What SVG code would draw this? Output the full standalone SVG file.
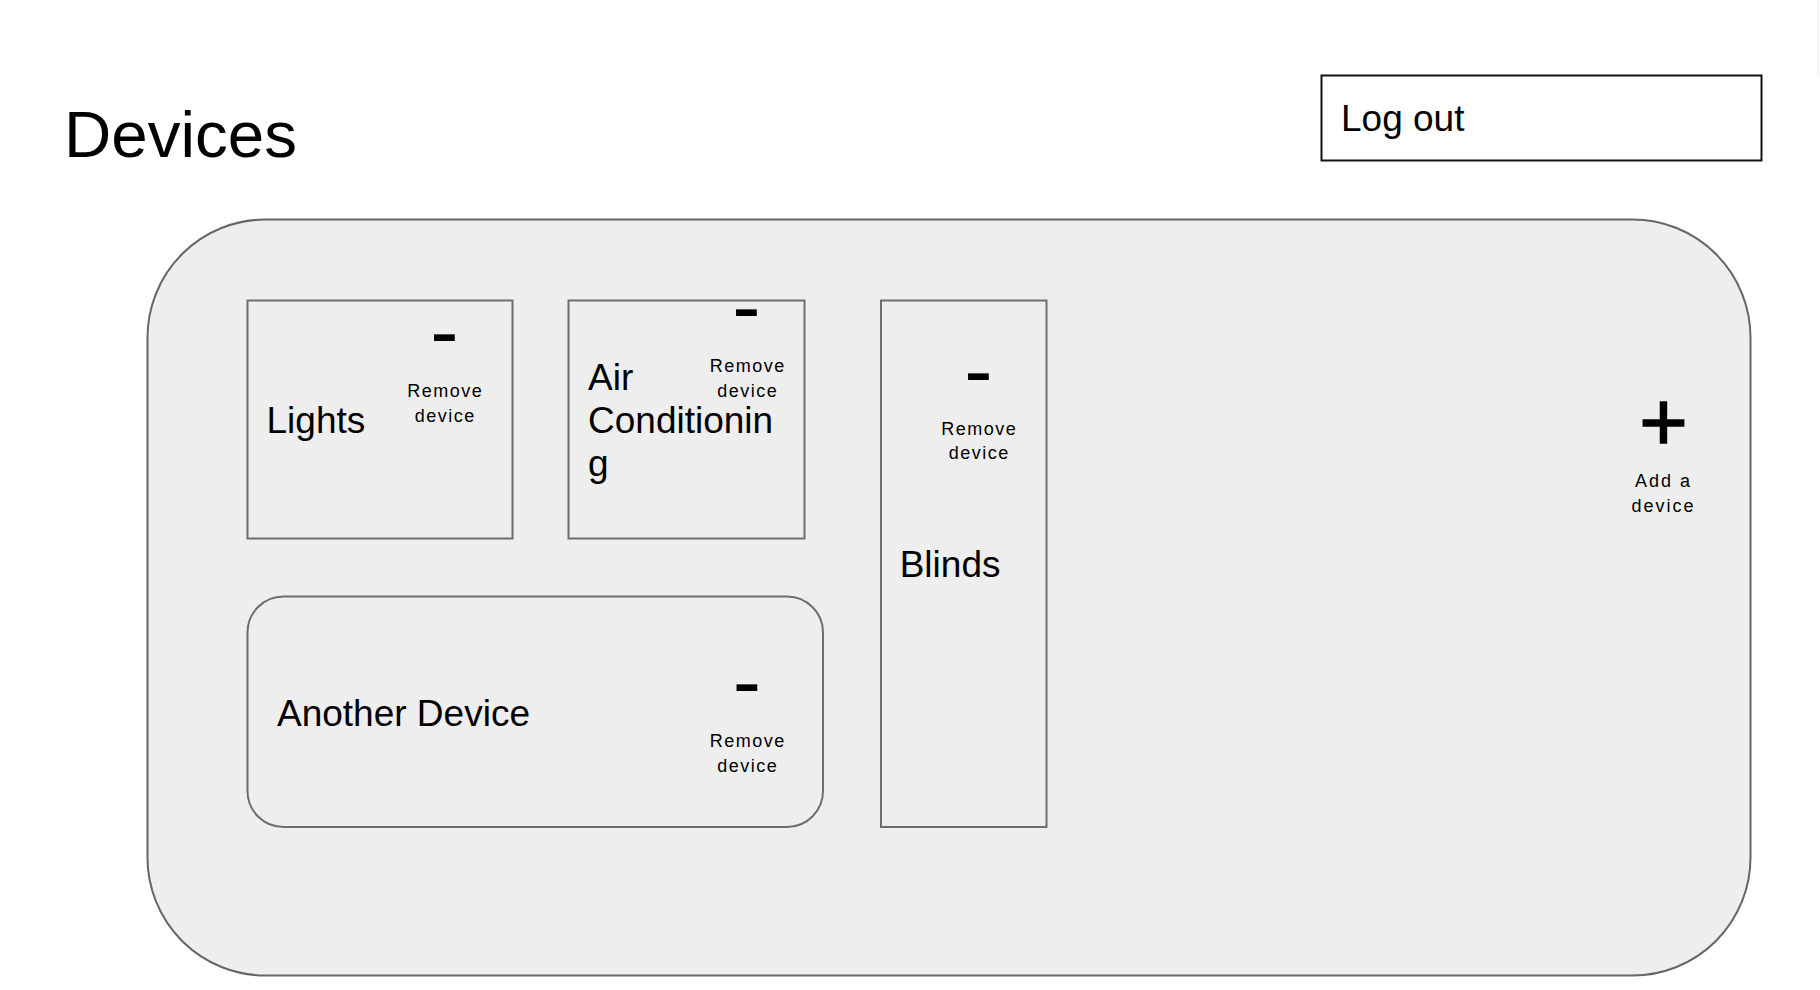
<svg xmlns="http://www.w3.org/2000/svg" width="1820" height="990" viewBox="0 0 1820 990">
  <style>
    .t { font-family: "Liberation Sans", Arial, sans-serif; fill: #000; }
    .big { font-size: 37px; }
    .small { font-size: 18px; letter-spacing: 1.5px; text-anchor: middle; }
    .dash { font-size: 85px; text-anchor: middle; }
    .card { fill: #eeeeee; stroke: #6e6e6e; stroke-width: 2; }
  </style>
  <rect x="0" y="0" width="1820" height="990" fill="#ffffff"/>
  <line x1="1818.5" y1="0" x2="1818.5" y2="76" stroke="#ededed" stroke-width="1.5"/>

  <g id="title">
    <text class="t" x="64" y="157" font-size="65.5">Devices</text>
  </g>

  <g id="logout">
    <rect x="1321.5" y="75.5" width="440" height="85" fill="#ffffff" stroke="#111" stroke-width="2"/>
    <text class="t big" x="1341" y="130.7">Log out</text>
  </g>

  <g id="container">
    <rect x="147.5" y="219.5" width="1603" height="756" rx="118" ry="118" fill="#eeeeee" stroke="#666" stroke-width="2"/>
  </g>

  <g id="lights">
    <rect class="card" x="247.5" y="300.5" width="265" height="238"/>
    <text class="t big" x="266.5" y="433">Lights</text>
    <text class="t dash" x="444.5" y="360.3">-</text>
    <text class="t small" x="445.3" y="396.7">Remove</text>
    <text class="t small" x="445.3" y="422.3">device</text>
  </g>

  <g id="air-conditioning">
    <rect class="card" x="568.5" y="300.5" width="236" height="238"/>
    <text class="t big" x="588" y="390">Air</text>
    <text class="t big" x="588" y="432.5">Conditionin</text>
    <text class="t big" x="588" y="476">g</text>
    <text class="t dash" x="746.5" y="335.3">-</text>
    <text class="t small" x="747.8" y="371.7">Remove</text>
    <text class="t small" x="747.8" y="397.3">device</text>
  </g>

  <g id="blinds">
    <rect class="card" x="881" y="300.5" width="165.5" height="526.5"/>
    <text class="t big" x="899.7" y="577.3">Blinds</text>
    <text class="t dash" x="978.5" y="398.5">-</text>
    <text class="t small" x="979.3" y="435">Remove</text>
    <text class="t small" x="979.3" y="459.3">device</text>
  </g>

  <g id="another-device">
    <rect class="card" x="247.5" y="596.5" width="575.5" height="230.5" rx="36" ry="36"/>
    <text class="t big" x="277" y="725.7">Another Device</text>
    <text class="t dash" x="747" y="709.5">-</text>
    <text class="t small" x="747.8" y="746.7">Remove</text>
    <text class="t small" x="747.8" y="771.7">device</text>
  </g>

  <g id="add-device">
    <text class="t" x="1663.5" y="449.8" font-size="83" text-anchor="middle" stroke="#000" stroke-width="1.5">+</text>
    <text class="t small" x="1663.5" y="486.7" style="letter-spacing:2px">Add a</text>
    <text class="t small" x="1663.5" y="511.7" style="letter-spacing:2px">device</text>
  </g>

  <g id="connectors"/>
</svg>
